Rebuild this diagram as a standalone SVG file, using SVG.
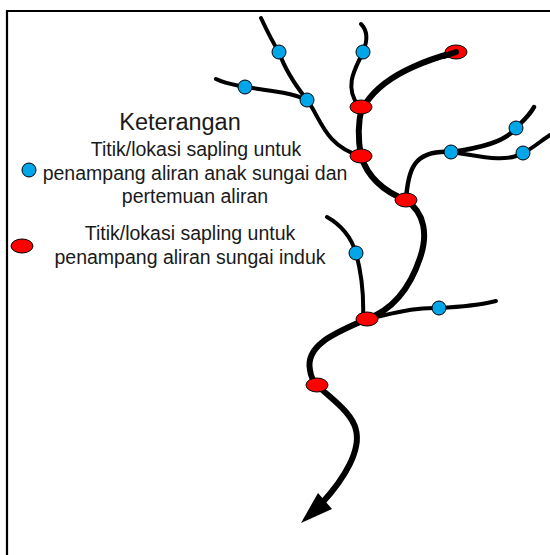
<svg xmlns="http://www.w3.org/2000/svg" width="550" height="555" viewBox="0 0 550 555">
<style>
.t{font-family:"Liberation Sans",Arial,sans-serif;fill:#1a1a1a;text-anchor:middle;font-size:19.500px}
.k{font-size:23.500px}
.r{fill:none;stroke:#000;stroke-linecap:round;stroke-linejoin:round}
.n{stroke-width:4px}
.w{stroke-width:6px}
.b{fill:#00a6e8;stroke:#000;stroke-width:1}
.e{fill:#f00;stroke:#000;stroke-width:1}
</style>
<defs>
<circle id="bn" r="7" class="b"/>
<ellipse id="rn" rx="11" ry="7" class="e"/>
</defs>
<rect width="550" height="555" fill="#fff"/>
<path d="M550 11H7V555" fill="none" stroke="#000" stroke-width="2.200"/>
<g id="connectors">
<path class="r n" d="M261 18C268 33 273 43 279 52C285 70 296 86 307 100C320 116 324 146 361 156"/>
<path class="r n" d="M216 79C226 84 236 85 245 87C265 90 290 92 307 100"/>
<path class="r n" d="M361 24C367 30 368 40 363 52C357 66 343 85 358 105"/>
<path class="r w" d="M366 103C378 85 395 75 413 67C430 59 445 55 456 52"/>
<path class="r w" d="M362 107C358 122 358 140 361 156"/>
<path class="r w" d="M361 156C367 175 380 190 406 200"/>
<path class="r" stroke-width="4.500" d="M406 200C408 170 413 150 451 152C480 148 505 142 516 128C522 122 530 115 534 107"/>
<path class="r n" d="M451 152C475 155 505 164 523 153C532 149 542 140 550 135"/>
<path class="r w" d="M406 200C425 213 428 235 420 258C410 288 392 310 367 319"/>
<path class="r" stroke-width="4" d="M327 217C343 226 352 240 356 253C362 275 364 295 363 319"/>
<path class="r n" d="M367 319C395 313 415 307 439 308C460 307 480 305 496 301"/>
<path class="r w" d="M367 319C335 333 305 345 310 370C311 378 314 382 317 385C330 398 352 412 356 430C361 450 345 478 322 503"/>
<path d="M301 523L318 493L332 509Z" fill="#000"/>
</g>
<g id="node-b1"><use href="#bn" x="279" y="52"/></g>
<g id="node-b2"><use href="#bn" x="363" y="52"/></g>
<g id="node-b3"><use href="#bn" x="245" y="87"/></g>
<g id="node-b4"><use href="#bn" x="307" y="100"/></g>
<g id="node-b5"><use href="#bn" x="516" y="128"/></g>
<g id="node-b6"><use href="#bn" x="451" y="152"/></g>
<g id="node-b7"><use href="#bn" x="523" y="153"/></g>
<g id="node-b8"><use href="#bn" x="356" y="253"/></g>
<g id="node-b9"><use href="#bn" x="439" y="308"/></g>
<g id="node-r1"><use href="#rn" x="456" y="52"/><path class="r w" d="M444 56L456 52"/></g>
<g id="node-r2"><use href="#rn" x="361" y="107"/></g>
<g id="node-r3"><use href="#rn" x="361" y="156"/></g>
<g id="node-r4"><use href="#rn" x="406" y="200"/></g>
<g id="node-r5"><use href="#rn" x="367" y="319"/></g>
<g id="node-r6"><use href="#rn" x="317" y="385"/></g>
<g id="legend">
<text class="t k" x="180" y="130">Keterangan</text>
<use href="#bn" x="29" y="170"/>
<text class="t" x="196" y="156">Titik/lokasi sapling untuk</text>
<text class="t" x="195" y="180">penampang aliran anak sungai dan</text>
<text class="t" x="195" y="203">pertemuan aliran</text>
<use href="#rn" x="22" y="246"/>
<text class="t" x="190" y="240">Titik/lokasi sapling untuk</text>
<text class="t" x="190" y="264">penampang aliran sungai induk</text>
</g>
</svg>
